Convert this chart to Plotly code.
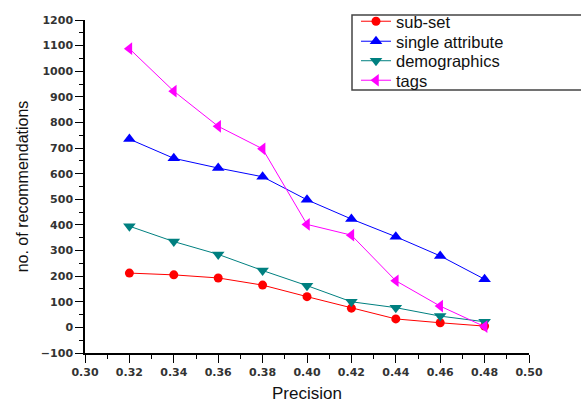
import plotly.graph_objects as go

precision = [0.32, 0.34, 0.36, 0.38, 0.40, 0.42, 0.44, 0.46, 0.48]
subset = [212, 205, 193, 165, 120, 75, 33, 18, 5]
single_attr = [735, 660, 622, 588, 498, 423, 354, 279, 188]
demographics = [395, 335, 285, 222, 163, 100, 77, 44, 22]
tags = [1088, 922, 785, 697, 402, 360, 182, 83, 3]

series = [
    ("sub-set", subset, "#ff0000", "circle", 9),
    ("single attribute", single_attr, "#0000ff", "triangle-up", 11),
    ("demographics", demographics, "#008080", "triangle-down", 11),
    ("tags", tags, "#ff00ff", "triangle-left", 11),
]

sans = "Arial, Liberation Sans, sans-serif"
legend_names = ["legend", "legend2", "legend3", "legend4"]
legend_centers_px = [21.5, 41.5, 61, 80.5]

L, R, T, B, W, H = 85, 52, 20, 50, 581, 403
PW, PH = W - L - R, H - T - B

fig = go.Figure()
for (name, vals, col, sym, sz), lg in zip(series, legend_names):
    fig.add_trace(go.Scatter(
        x=precision, y=vals, name=name, mode="lines+markers",
        line=dict(color=col, width=1),
        marker=dict(color=col, symbol=sym, size=sz),
        legend=lg,
    ))

legend_layout = {}
for lg, cy in zip(legend_names, legend_centers_px):
    legend_layout[lg] = dict(
        x=(356 - L) / PW, y=(H - B - cy) / PH, xanchor="left", yanchor="middle",
        borderwidth=0, bgcolor="rgba(0,0,0,0)",
        font=dict(family=sans, size=16.5, color="#111"),
    )

tickfont = dict(family="DejaVu Sans", size=11, color="#333", weight="bold")
fig.update_layout(
    width=W, height=H,
    margin=dict(l=L, r=R, t=T, b=B, autoexpand=False),
    plot_bgcolor="white", paper_bgcolor="white",
    showlegend=True,
    **legend_layout,
    xaxis=dict(
        range=[0.30, 0.50], dtick=0.02, tick0=0.30, tickformat=".2f",
        showgrid=False, zeroline=False, automargin=False,
        showline=True, linecolor="black", linewidth=1.5,
        ticks="outside", ticklen=8, tickcolor="black", ticklabelstandoff=0,
        minor=dict(dtick=0.01, ticklen=4, ticks="outside", tickcolor="black", showgrid=False),
        tickfont=tickfont,
        title=dict(text="Precision", font=dict(family=sans, size=17, color="#111"), standoff=18),
    ),
    yaxis=dict(
        range=[-100, 1200], dtick=100, tick0=-100,
        showgrid=False, zeroline=False, automargin=False,
        showline=True, linecolor="black", linewidth=1.5,
        ticks="outside", ticklen=8, tickcolor="black",
        minor=dict(dtick=50, ticklen=4, ticks="outside", tickcolor="black", showgrid=False),
        tickfont=tickfont,
        title=dict(text="no. of recommendations", font=dict(family=sans, size=16, color="#111"), standoff=8),
    ),
    shapes=[dict(
        type="rect", xref="paper", yref="paper",
        x0=(352 - L) / PW, x1=(584 - L) / PW, y0=(H - B - 90) / PH, y1=(H - B - 15) / PH,
        line=dict(color="#444", width=1.5), fillcolor="rgba(0,0,0,0)", layer="above",
    )],
)
fig.write_html("out.html")
